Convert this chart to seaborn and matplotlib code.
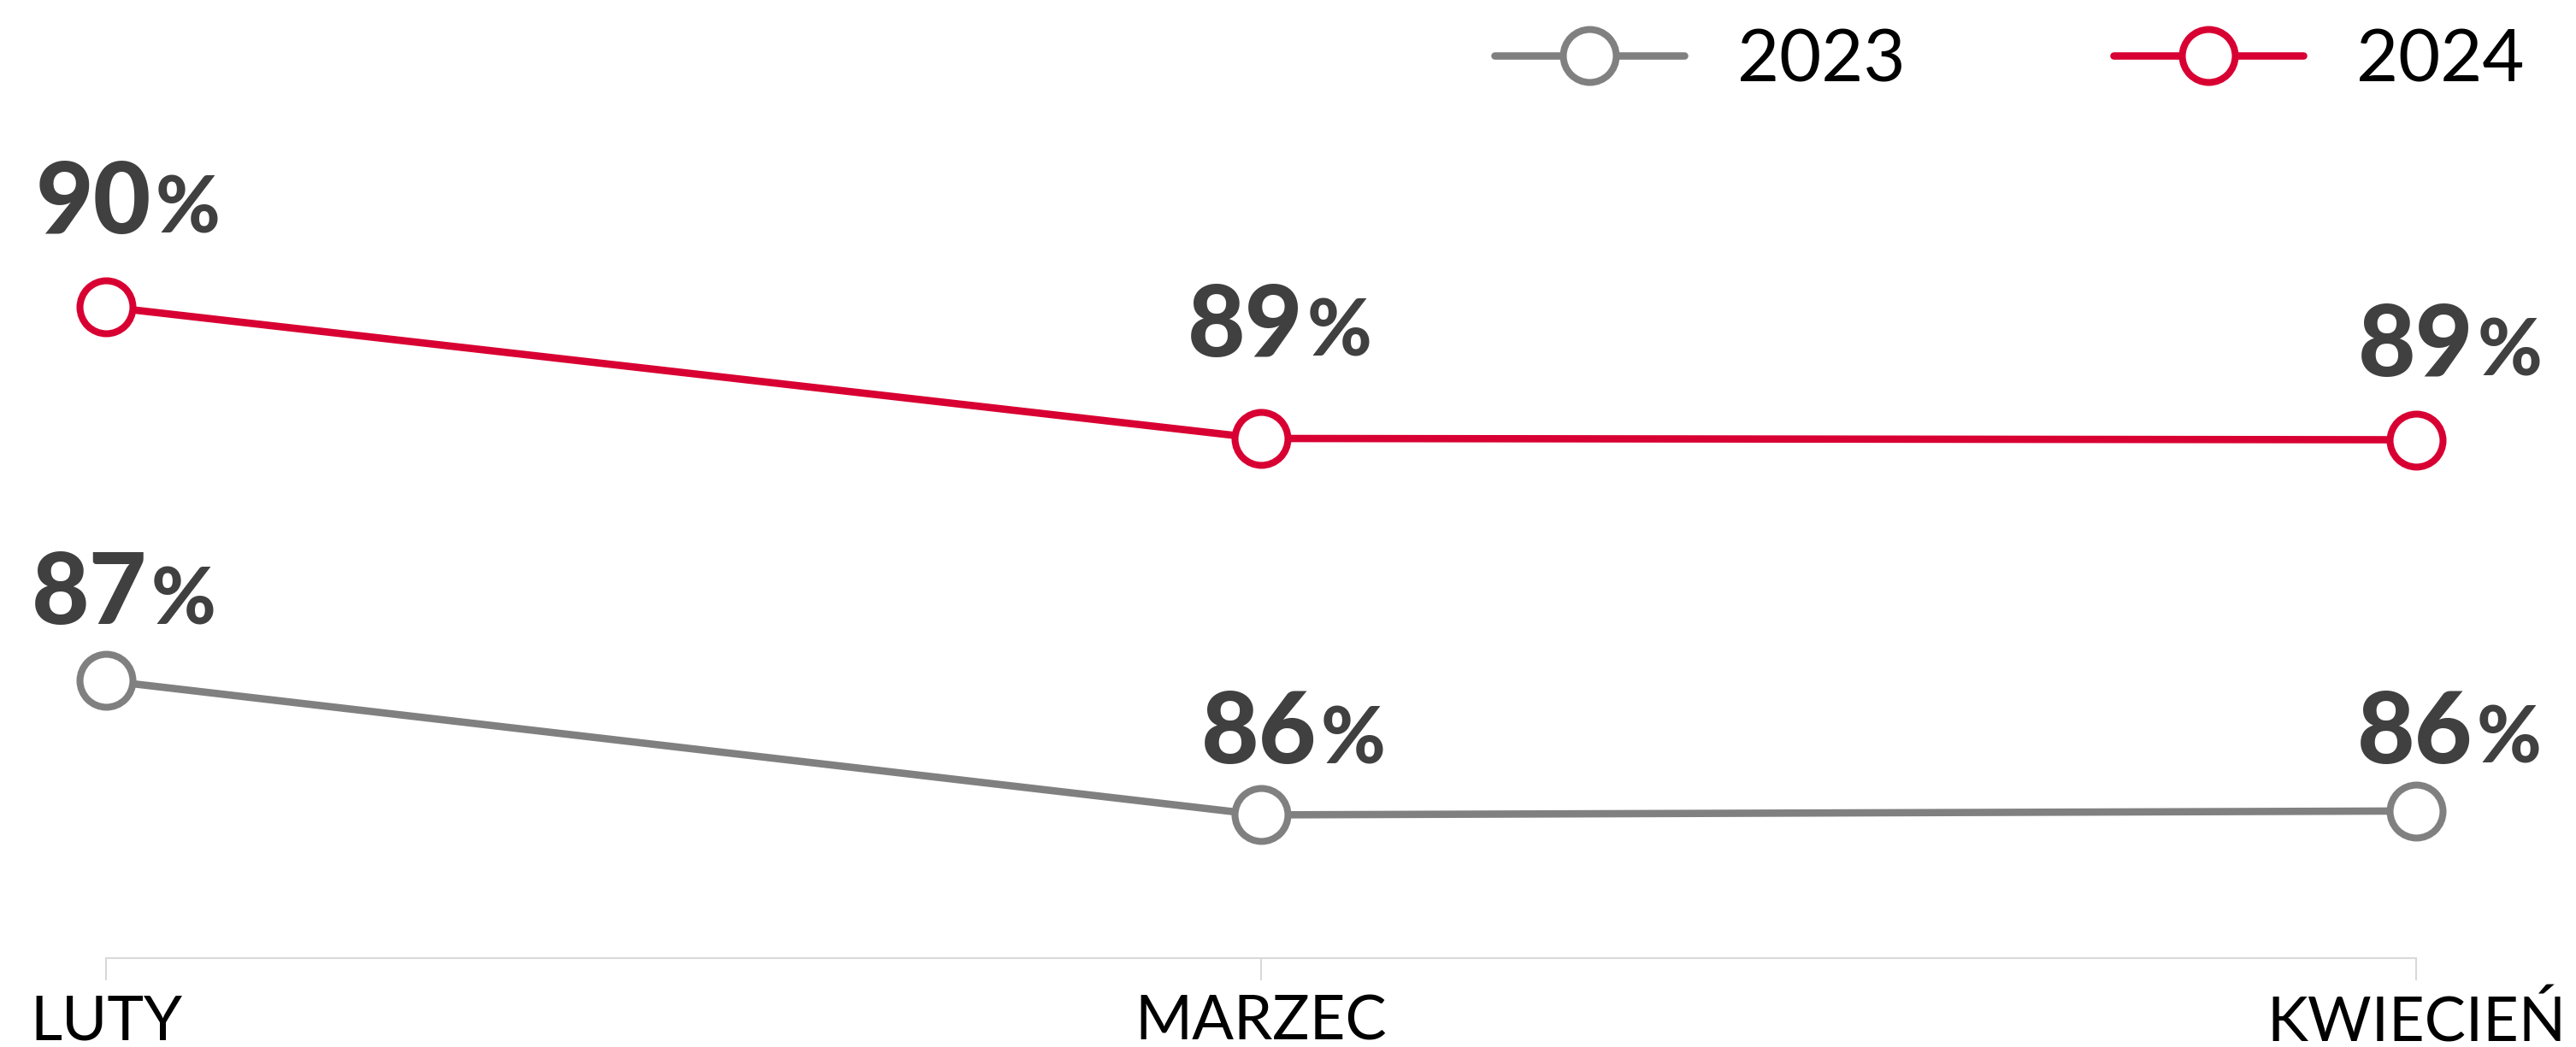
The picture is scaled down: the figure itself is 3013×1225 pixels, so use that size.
import matplotlib
matplotlib.use("Agg")
import matplotlib.pyplot as plt
import seaborn as sns
import pandas as pd

months = ["LUTY", "MARZEC", "KWIECIEŃ"]
years = ["2023", "2024"]
values_2023 = [87.16, 86.14, 86.17]
values_2024 = [90.0, 89.0, 88.99]
labels_2023 = ["87", "86", "86"]
labels_2024 = ["90", "89", "89"]

colors = {"2023": "#808080", "2024": "#d80032"}
# label offsets (pixels) relative to each point: (dx, dy)
offsets = {
    "2023": [(-87, 66), (-70, 60), (-69, 56)],
    "2024": [(-82, 86), (-86, 96), (-68, 75)],
}

rows = []
for yr, vals in (("2023", values_2023), ("2024", values_2024)):
    for i, (m, v) in enumerate(zip(months, vals)):
        rows.append({"month": m, "x": i, "year": yr, "value": v})
df = pd.DataFrame(rows)

sns.set_style("white")
plt.rcParams["font.family"] = ["Lato", "DejaVu Sans"]

W, H, DPI = 3013, 1225, 100
fig = plt.figure(figsize=(W / DPI, H / DPI), dpi=DPI)
ax = fig.add_axes([124 / W, (H - 1121) / H, (2826 - 124) / W, 1121 / H])

sns.lineplot(data=df, x="x", y="value", hue="year", hue_order=years,
             palette=colors, marker="o", markersize=44.6, markeredgewidth=5.8,
             linewidth=6.2, legend=False, ax=ax, clip_on=False, sort=False)

for line, yr in zip(ax.get_lines(), years):
    c = colors[yr]
    line.set_color(c)
    line.set_markeredgecolor(c)
    line.set_markerfacecolor("white")
    line.set_label(yr)
    line.set_clip_on(False)

ax.set_xlim(0, 2)
ax.set_ylim(85.052, 92.331)
ax.set_xticks([0, 1, 2])
ax.set_xticklabels(months, fontsize=52, color="black", family=["Lato", "DejaVu Sans"])
ax.set_yticks([])
ax.set_xlabel("")
ax.set_ylabel("")
for s in ["top", "right", "left"]:
    ax.spines[s].set_visible(False)
ax.spines["bottom"].set_color("#d9d9d9")
ax.spines["bottom"].set_linewidth(1.5)
ax.tick_params(axis="x", length=18.7, width=1.5, color="#d9d9d9", pad=12, bottom=True)
ax.patch.set_alpha(0)

# value labels
fig.canvas.draw()
renderer = fig.canvas.get_renderer()
for yr, vals, labs in (("2023", values_2023, labels_2023), ("2024", values_2024, labels_2024)):
    for i, (v, lab) in enumerate(zip(vals, labs)):
        dx, dy = offsets[yr][i]
        t = ax.annotate(lab, xy=(i, v), xytext=(dx, dy), textcoords="offset pixels",
                        ha="left", va="baseline", fontsize=84, fontweight="black",
                        color="#404040", annotation_clip=False)
        w = t.get_window_extent(renderer).width
        ax.annotate("%", xy=(i, v), xytext=(dx + w + 4, dy), textcoords="offset pixels",
                    ha="left", va="baseline", fontsize=66, fontweight="black",
                    color="#404040", annotation_clip=False)

handles = ax.get_lines()[:2]
fig.legend(handles=handles, labels=years, loc="center left",
           bbox_to_anchor=(1748 / W, 1 - 71 / H), ncol=2, frameon=False,
           fontsize=61, handlelength=2.62, handletextpad=0.73, columnspacing=2.88,
           borderpad=0, borderaxespad=0, labelcolor="black")

fig.savefig("out.png", dpi=DPI)
